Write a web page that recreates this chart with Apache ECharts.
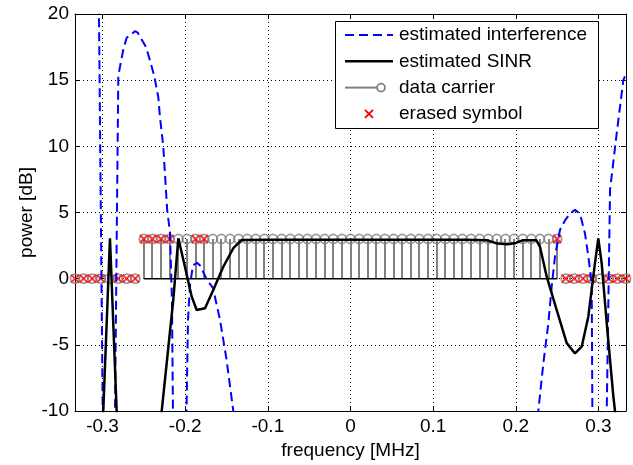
<!DOCTYPE html>
<html>
<head>
<meta charset="utf-8">
<script src="https://cdn.jsdelivr.net/npm/echarts@6/dist/echarts.min.js"></script>
<style>
  html, body { margin: 0; padding: 0; background: #fff; }
  #chart { width: 633px; height: 465px; }
</style>
</head>
<body>
<div id="chart"></div>
<script>
// axis range and ticks
const freqMin = -0.3333;
const freqMax = 0.3333;
const freqTicks = [-0.3, -0.2, -0.1, 0, 0.1, 0.2, 0.3];

// estimated interference (dB), values outside [-10, 20] are clipped by the grid
const interfFreq = [-0.3333, -0.3043, -0.2998, -0.2920, -0.2849, -0.2809, -0.2789, -0.2749, -0.2708, -0.2647,
  -0.2608, -0.2575, -0.2474, -0.2426, -0.2374, -0.2325, -0.2305, -0.2265, -0.2218, -0.2184,
  -0.2160, -0.2148, -0.2070, -0.1984, -0.1966, -0.1942, -0.1906, -0.1857, -0.1821, -0.1736,
  -0.1664, -0.1579, -0.1500, -0.1418, -0.1300, 0.2150, 0.2272, 0.2333, 0.2393, 0.2434,
  0.2474, 0.2535, 0.2595, 0.2656, 0.2716, 0.2777, 0.2837, 0.2877, 0.2918, 0.2926,
  0.3010, 0.3100, 0.3116, 0.3140, 0.3221, 0.3301, 0.3333];
const interfPower = [45, 20, -10, -40, -10, 15.3, 16.0, 17.3, 18.2, 18.5,
  18.7, 18.6, 17.5, 16.5, 15.3, 13.7, 12.2, 10.0, 5.2, 3.5,
  -1.6, -10, -40, -10, -3.1, -0.5, 1.0, 1.2, 1.0, -0.1,
  -0.7, -3.1, -6.1, -10, -40, -40, -10, -6.4, -3.4, -0.6,
  1.7, 3.7, 4.4, 4.9, 5.2, 4.9, 3.4, 1.7, -0.35, -10,
  -40, -10, -3.35, 6.7, 11.0, 15.0, 15.5];

// estimated SINR (dB)
const sinrFreq = [-0.3333, -0.2991, -0.2910, -0.2829, -0.2500, -0.2284, -0.2144, -0.2083, -0.2003, -0.1921,
  -0.1861, -0.1760, -0.1660, -0.1539, -0.1418, -0.1316, -0.1000, -0.0500, 0, 0.0500,
  0.1000, 0.1400, 0.1650, 0.1780, 0.1900, 0.2000, 0.2080, 0.2250, 0.2293, 0.2374,
  0.2495, 0.2616, 0.2716, 0.2797, 0.2877, 0.2958, 0.2998, 0.3039, 0.3100, 0.3180,
  0.3200, 0.3333];
const sinrPower = [-40, -10, 3.05, -10, -40, -10, -1.6, 3.05, 0.9, -1.36,
  -2.37, -2.24, -0.85, 0.9, 2.3, 2.93, 2.95, 2.95, 2.95, 2.95,
  2.95, 2.95, 2.9, 2.65, 2.6, 2.7, 2.9, 2.9, 2.4, 0.15,
  -2.37, -4.87, -5.65, -5.14, -2.87, 1.19, 3.05, 1.16, -3.37, -8.9,
  -10, -30];

// sub-carriers: 8 guard carriers each side, 49 data carriers in the middle
const carrierFreq = [-0.3333, -0.3229, -0.3125, -0.3021, -0.2917, -0.2813, -0.2708, -0.2604,
  -0.2500, -0.2396, -0.2292, -0.2188, -0.2083, -0.1979, -0.1875, -0.1771,
  -0.1667, -0.1563, -0.1458, -0.1354, -0.1250, -0.1146, -0.1042, -0.0938,
  -0.0833, -0.0729, -0.0625, -0.0521, -0.0417, -0.0313, -0.0208, -0.0104,
  0,
  0.0104, 0.0208, 0.0313, 0.0417, 0.0521, 0.0625, 0.0729, 0.0833,
  0.0938, 0.1042, 0.1146, 0.1250, 0.1354, 0.1458, 0.1563, 0.1667,
  0.1771, 0.1875, 0.1979, 0.2083, 0.2188, 0.2292, 0.2396, 0.2500,
  0.2604, 0.2708, 0.2813, 0.2917, 0.3021, 0.3125, 0.3229, 0.3333];
const carrierPower = [0, 0, 0, 0, 0, 0, 0, 0,
  3, 3, 3, 3, 3, 3, 3, 3,
  3, 3, 3, 3, 3, 3, 3, 3,
  3, 3, 3, 3, 3, 3, 3, 3,
  3,
  3, 3, 3, 3, 3, 3, 3, 3,
  3, 3, 3, 3, 3, 3, 3, 3,
  3, 3, 3, 3, 3, 3, 3, 3,
  0, 0, 0, 0, 0, 0, 0, 0];
const carrierErased = [1, 1, 1, 1, 0, 1, 1, 1,
  1, 1, 1, 1, 0, 0, 1, 1,
  0, 0, 0, 0, 0, 0, 0, 0,
  0, 0, 0, 0, 0, 0, 0, 0,
  0,
  0, 0, 0, 0, 0, 0, 0, 0,
  0, 0, 0, 0, 0, 0, 0, 0,
  0, 0, 0, 0, 0, 0, 0, 1,
  1, 1, 1, 1, 0, 1, 1, 1];
const baselineFreq = [-0.25, 0.25];

const legendNames = ['estimated interference', 'estimated SINR', 'data carrier', 'erased symbol'];

const chart = echarts.init(document.getElementById('chart'));

const zip = (xs, ys) => xs.map((x, i) => [x, ys[i]]);
const carriers = zip(carrierFreq, carrierPower);
const erased = carriers.filter((d, i) => carrierErased[i] === 1);

const fontFamily = '"Liberation Sans", Arial, sans-serif';
const labelStyle = { color: '#000', fontSize: 19, fontFamily: fontFamily };
const dotted = { show: true, lineStyle: { color: '#000', width: 1, type: [1, 3] } };
const axisLine = { show: true, onZero: false, lineStyle: { color: '#000', width: 1 } };
const stemGray = '#808080';

// legend drawn as graphic so the icons look like MATLAB's
const legendLeft = 335, legendTop = 21, rowGap = 26.3, firstRow = 35;
const legendGraphic = [
  {
    type: 'rect', left: legendLeft, top: legendTop, z: 100,
    shape: { width: 263, height: 107 },
    style: { fill: '#fff', stroke: '#000', lineWidth: 1 }
  },
  {
    type: 'line', z: 101,
    shape: { x1: 345, y1: firstRow, x2: 393, y2: firstRow },
    style: { stroke: '#0000ff', lineWidth: 2, lineDash: [9, 5] }
  },
  {
    type: 'line', z: 101,
    shape: { x1: 345, y1: firstRow + rowGap, x2: 393, y2: firstRow + rowGap },
    style: { stroke: '#000', lineWidth: 2.5 }
  },
  {
    type: 'line', z: 101,
    shape: { x1: 345, y1: firstRow + 2 * rowGap, x2: 377, y2: firstRow + 2 * rowGap },
    style: { stroke: stemGray, lineWidth: 2 }
  },
  {
    type: 'circle', z: 101,
    shape: { cx: 381, cy: firstRow + 2 * rowGap, r: 4 },
    style: { fill: 'none', stroke: stemGray, lineWidth: 1.8 }
  },
  {
    type: 'polyline', z: 101,
    shape: { points: [[365, firstRow + 3 * rowGap - 4], [373, firstRow + 3 * rowGap + 4]] },
    style: { stroke: '#ff0000', lineWidth: 2 }
  },
  {
    type: 'polyline', z: 101,
    shape: { points: [[373, firstRow + 3 * rowGap - 4], [365, firstRow + 3 * rowGap + 4]] },
    style: { stroke: '#ff0000', lineWidth: 2 }
  }
].concat(legendNames.map((name, i) => ({
  type: 'text', z: 101, x: 399, y: firstRow + i * rowGap,
  style: { text: name, fill: '#000', font: '19px ' + fontFamily, textVerticalAlign: 'middle' }
})));

const option = {
  animation: false,
  backgroundColor: '#fff',
  grid: { left: 75, right: 7, top: 14, bottom: 54, containLabel: false, outerBoundsMode: 'none' },
  xAxis: [
    {
      type: 'value', position: 'bottom', min: freqMin, max: freqMax,
      name: 'frequency [MHz]', nameLocation: 'middle', nameGap: 30,
      nameTextStyle: labelStyle,
      axisLine: axisLine,
      axisTick: { show: true, inside: true, length: 5, customValues: freqTicks, lineStyle: { color: '#000' } },
      axisLabel: Object.assign({ customValues: freqTicks, margin: 6 }, labelStyle),
      splitLine: dotted
    },
    {
      type: 'value', position: 'top', min: freqMin, max: freqMax,
      axisLine: axisLine,
      axisTick: { show: true, inside: true, length: 5, customValues: freqTicks, lineStyle: { color: '#000' } },
      axisLabel: { show: false, customValues: freqTicks },
      splitLine: { show: false }
    }
  ],
  yAxis: [
    {
      type: 'value', position: 'left', min: -10, max: 20, interval: 5,
      name: 'power [dB]', nameLocation: 'middle', nameGap: 39, nameMoveOverlap: false,
      nameTextStyle: labelStyle,
      axisLine: axisLine,
      axisTick: { show: true, inside: true, length: 5, lineStyle: { color: '#000' } },
      axisLabel: Object.assign({ margin: 6 }, labelStyle),
      splitLine: dotted
    },
    {
      type: 'value', position: 'right', min: -10, max: 20, interval: 5,
      axisLine: axisLine,
      axisTick: { show: true, inside: true, length: 5, lineStyle: { color: '#000' } },
      axisLabel: { show: false },
      splitLine: { show: false }
    }
  ],
  graphic: legendGraphic,
  series: [
    {
      name: legendNames[0], type: 'line', data: zip(interfFreq, interfPower),
      symbol: 'none', clip: true,
      lineStyle: { color: '#0000ff', width: 2, type: [9, 5] }
    },
    {
      name: legendNames[1], type: 'line', data: zip(sinrFreq, sinrPower),
      symbol: 'none', clip: true,
      lineStyle: { color: '#000', width: 2.5 }
    },
    {
      type: 'line', data: baselineFreq.map(f => [f, 0]),
      symbol: 'none', lineStyle: { color: '#000', width: 1.5 }
    },
    {
      name: legendNames[2], type: 'custom', data: carriers,
      encode: { x: 0, y: 1 },
      renderItem: function (params, api) {
        const top = api.coord([api.value(0), api.value(1)]);
        const base = api.coord([api.value(0), 0]);
        // snap to whole pixels so every stem looks the same
        const x = Math.round(base[0]);
        return {
          type: 'line',
          shape: { x1: x, y1: base[1], x2: x, y2: top[1] },
          style: { stroke: stemGray, lineWidth: 2 }
        };
      }
    },
    {
      type: 'scatter', data: carriers, symbol: 'circle', symbolSize: 9,
      itemStyle: { color: 'rgba(0,0,0,0)', borderColor: stemGray, borderWidth: 1.8 }
    },
    {
      name: legendNames[3], type: 'scatter', data: erased,
      symbol: 'path://M0,0L1,1M1,0L0,1', symbolSize: 8,
      itemStyle: { color: 'rgba(0,0,0,0)', borderColor: '#ff0000', borderWidth: 2 }
    }
  ]
};

chart.setOption(option);
</script>
</body>
</html>
